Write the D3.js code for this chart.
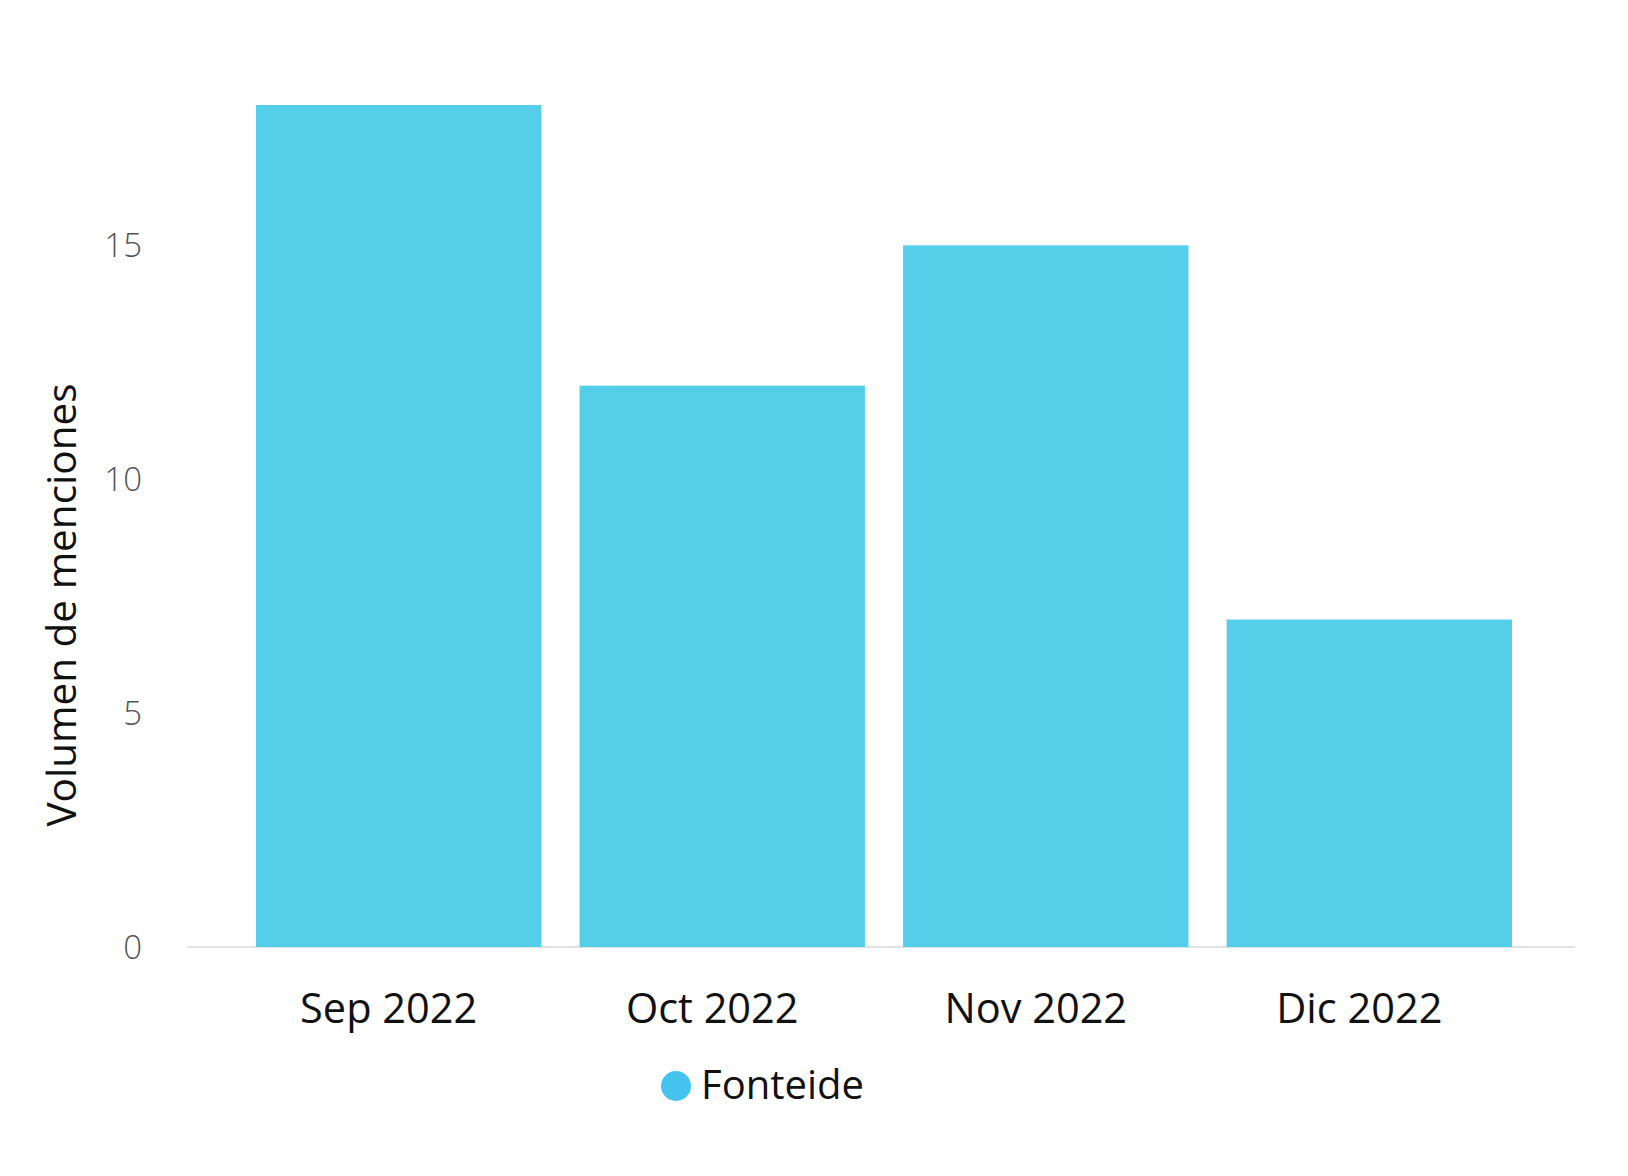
<!DOCTYPE html>
<html><head><meta charset="utf-8">
<script src="https://cdn.jsdelivr.net/npm/d3@7"></script>
<style>html,body{margin:0;padding:0;background:#fff;}</style>
</head><body>
<svg id="chart" width="1628" height="1176"></svg>
<script>
const categories = ["Sep 2022", "Oct 2022", "Nov 2022", "Dic 2022"];
const values = [18, 12, 15, 7];
const yTicks = [0, 5, 10, 15];
const seriesName = "Fonteide";
const yTitle = "Volumen de menciones";

const svg = d3.select("#chart");
const font = "'Open Sans', 'Noto Sans', sans-serif";

const x = d3.scaleBand().domain(categories).range([256, 1512]).paddingInner(0.118).paddingOuter(0);
const y = d3.scaleLinear().domain([0, 18]).range([947, 105]);

// baseline
svg.append("line").attr("x1", 187).attr("x2", 1575).attr("y1", y(0)).attr("y2", y(0))
  .attr("stroke", "#d9d9d9").attr("stroke-width", 1.5);

// bars
svg.append("g").selectAll("rect").data(values).join("rect")
  .attr("x", (d, i) => x(categories[i]))
  .attr("width", x.bandwidth())
  .attr("y", d => y(d))
  .attr("height", d => y(0) - y(d))
  .attr("fill", "#55ceea");

// y axis
const yAxis = d3.axisLeft(y).tickValues(yTicks).tickSize(0).tickPadding(0).tickFormat(d3.format("d"));
const gy = svg.append("g").attr("transform", "translate(142,0)").call(yAxis);
gy.select(".domain").remove();
gy.selectAll("text").attr("font-family", font).attr("font-weight", 300)
  .attr("font-size", 33).attr("fill", "#555").attr("dy", "0.35em");

// x axis
const xAxis = d3.axisBottom(x).tickSize(0).tickPadding(0);
const gx = svg.append("g").attr("transform", `translate(-10,${y(0)})`).call(xAxis);
gx.select(".domain").remove();
gx.selectAll("text").attr("font-family", font).attr("font-size", 41.5).attr("fill", "#111")
  .attr("dy", null).attr("y", 76);

// y title
svg.append("text").attr("transform", "translate(76,605) rotate(-90)")
  .attr("text-anchor", "middle").attr("font-family", font).attr("font-size", 40.5)
  .attr("fill", "#111").text(yTitle);

// legend
svg.append("circle").attr("cx", 676).attr("cy", 1086).attr("r", 15).attr("fill", "#45c3ee");
svg.append("text").attr("x", 701).attr("y", 1099).attr("font-family", font)
  .attr("font-size", 40).attr("fill", "#111").text(seriesName);
</script>
</body></html>
